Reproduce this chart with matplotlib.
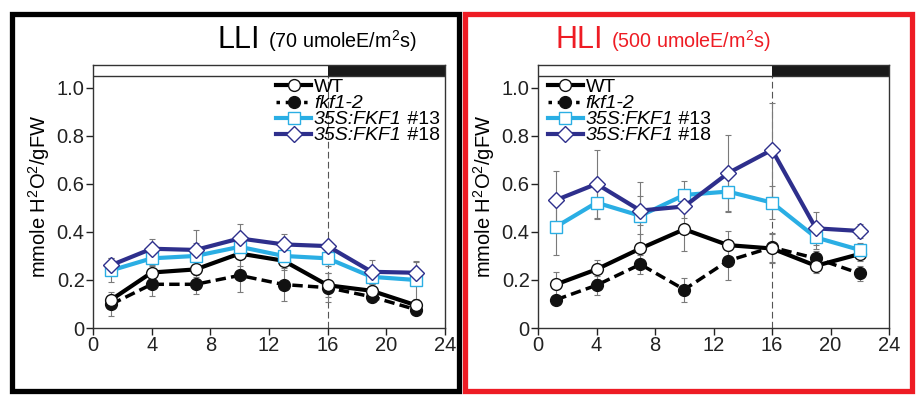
import matplotlib
matplotlib.use('Agg')
import matplotlib.pyplot as plt
import matplotlib.patches as mpatches
from matplotlib.lines import Line2D

plt.rcParams['font.family'] = ['Liberation Sans', 'DejaVu Sans']
plt.rcParams['mathtext.fontset'] = 'custom'
plt.rcParams['mathtext.rm'] = 'Liberation Sans'
plt.rcParams['mathtext.it'] = 'Liberation Sans:italic'

# sampling times (h)
hours = [1.25, 4, 7, 10, 13, 16, 19, 22]

# LLI (70 umoleE/m2s)
lli_wt = [0.118, 0.231, 0.244, 0.310, 0.280, 0.178, 0.155, 0.095]
lli_fkf = [0.099, 0.182, 0.182, 0.219, 0.181, 0.168, 0.130, 0.077]
lli_13 = [0.240, 0.290, 0.300, 0.338, 0.300, 0.290, 0.213, 0.200]
lli_18 = [0.262, 0.330, 0.325, 0.373, 0.348, 0.341, 0.234, 0.230]
lli_wt_err = [0.02, 0.03, 0.03, 0.05, 0.04, 0.05, 0.02, 0.02]
lli_fkf_err = [0.05, 0.05, 0.04, 0.07, 0.07, 0.06, 0.02, 0.02]
lli_13_err = [0.05, 0.03, 0.11, 0.04, 0.04, 0.03, 0.03, 0.08]
lli_18_err = [0.03, 0.04, 0.03, 0.06, 0.045, 0.02, 0.05, 0.045]

# HLI (500 umoleE/m2s)
hli_wt = [0.182, 0.244, 0.331, 0.411, 0.345, 0.331, 0.259, 0.308]
hli_fkf = [0.118, 0.178, 0.265, 0.160, 0.280, 0.336, 0.290, 0.227]
hli_13 = [0.422, 0.522, 0.467, 0.554, 0.568, 0.522, 0.377, 0.325]
hli_18 = [0.533, 0.600, 0.489, 0.506, 0.645, 0.742, 0.415, 0.404]
hli_wt_err = [0.05, 0.04, 0.06, 0.09, 0.06, 0.06, 0.03, 0.03]
hli_fkf_err = [0.02, 0.04, 0.04, 0.05, 0.08, 0.06, 0.03, 0.03]
hli_13_err = [0.12, 0.07, 0.14, 0.06, 0.08, 0.07, 0.05, 0.03]
hli_18_err = [0.12, 0.14, 0.06, 0.05, 0.16, 0.195, 0.07, 0.03]

# legend: italic part, upright suffix
labels = ['WT', 'fkf1-2', '35S:FKF1', '35S:FKF1']
italic = [False, True, True, True]
suffix = ['', '', ' #13', ' #18']

c_13 = '#2aaee4'
c_18 = '#2e2f8c'


# one panel with the four lines
def panel(ax, wt, fkf, l13, l18, errs):
    series = [wt, fkf, l13, l18]
    for s, e in zip(series, errs):
        ax.errorbar(hours, s, yerr=e, fmt='none', ecolor='#7a7a7a',
                    elinewidth=0.8, capsize=2, capthick=0.8, zorder=1)
    ax.plot(hours, fkf, color='k', lw=2.5, ls=(0, (3, 1.5)), marker='o',
            ms=8.5, mfc='#111111', mec='#111111', zorder=3)
    ax.plot(hours, wt, color='k', lw=3, marker='o', ms=8.5,
            mfc='white', mec='#111111', mew=1, zorder=4)
    ax.plot(hours, l13, color=c_13, lw=3, marker='s', ms=8,
            mfc='white', mec=c_13, mew=1, zorder=5)
    ax.plot(hours, l18, color=c_18, lw=3, marker='D', ms=8.5,
            mfc='white', mec=c_18, mew=1, zorder=6)

    # light / dark bar
    ax.broken_barh([(16, 8)], (1.05, 0.05), facecolors='#1a1a1a', zorder=2)
    ax.axhline(1.05, color='#333333', lw=1, zorder=2)
    ax.plot([16, 16], [0, 1.05], color='#555555', lw=0.8,
            ls=(0, (6, 3)), zorder=0)

    ax.set_xlim(0, 24)
    ax.set_ylim(0, 1.095)
    ax.set_xticks([0, 4, 8, 12, 16, 20, 24])
    ax.set_yticks([0, 0.2, 0.4, 0.6, 0.8, 1.0])
    ax.set_yticklabels(['0', '0.2', '0.4', '0.6', '0.8', '1.0'])
    ax.tick_params(labelsize=14.5, length=5, width=1, colors='#222222',
                   pad=1)
    for sp in ax.spines.values():
        sp.set_linewidth(1)
        sp.set_color('#333333')
    ax.set_ylabel(r'mmole H$^2$O$^2$/gFW', fontsize=14.5, labelpad=3)


def handles():
    return [
        Line2D([], [], color='k', lw=3, marker='o', ms=8.5, mfc='white', mec='#111111'),
        Line2D([], [], color='k', lw=2.5, ls=':', marker='o', ms=8.5, mfc='#111111', mec='#111111'),
        Line2D([], [], color=c_13, lw=3, marker='s', ms=8, mfc='white', mec=c_13),
        Line2D([], [], color=c_18, lw=3, marker='D', ms=8.5, mfc='white', mec=c_18),
    ]


def add_legend(ax, x0):
    leg = ax.legend(handles(), labels, loc='upper left', bbox_to_anchor=(x0, 0.948),
                    frameon=False, fontsize=14, handlelength=1.8,
                    handletextpad=0.15, labelspacing=-0.08, borderpad=0,
                    borderaxespad=0)
    for t, it in zip(leg.get_texts(), italic):
        if it:
            t.set_fontstyle('italic')
    return leg


fig = plt.figure(figsize=(9.24, 4.03), dpi=100)

ax1 = fig.add_axes([93 / 924, 75 / 403, 352 / 924, 263 / 403])
panel(ax1, lli_wt, lli_fkf, lli_13, lli_18,
      [lli_wt_err, lli_fkf_err, lli_13_err, lli_18_err])
leg1 = add_legend(ax1, 0.52)

ax2 = fig.add_axes([538 / 924, 75 / 403, 351 / 924, 263 / 403])
panel(ax2, hli_wt, hli_fkf, hli_13, hli_18,
      [hli_wt_err, hli_fkf_err, hli_13_err, hli_18_err])
leg2 = add_legend(ax2, 0.028)

# upright " #13" / " #18" after the italic legend text
fig.canvas.draw()
r = fig.canvas.get_renderer()
for leg in [leg1, leg2]:
    for t, s in zip(leg.get_texts(), suffix):
        if s:
            bb = t.get_window_extent(r)
            fig.text(bb.x1, bb.y0, s, transform=None, fontsize=14,
                     va='bottom', ha='left')

# frames round the panels
fig.patches.append(mpatches.Rectangle((12 / 924, 12 / 403), 447 / 924, 377 / 403,
                                      transform=fig.transFigure, fill=False,
                                      ec='black', lw=3.8))
fig.patches.append(mpatches.Rectangle((465 / 924, 12 / 403), 447 / 924, 377 / 403,
                                      transform=fig.transFigure, fill=False,
                                      ec='#ee1c24', lw=3.8))

# titles
fig.text(218 / 924, 355 / 403, 'LLI', fontsize=22, color='black', va='baseline')
fig.text(268 / 924, 355 / 403, r'(70 umoleE/m$^2$s)', fontsize=14.2, color='black',
         va='baseline')
fig.text(556 / 924, 355 / 403, 'HLI', fontsize=22, color='#ee1c24', va='baseline')
fig.text(611 / 924, 355 / 403, r'(500 umoleE/m$^2$s)', fontsize=14.2, color='#ee1c24',
         va='baseline')

fig.savefig('out.png', dpi=100)
